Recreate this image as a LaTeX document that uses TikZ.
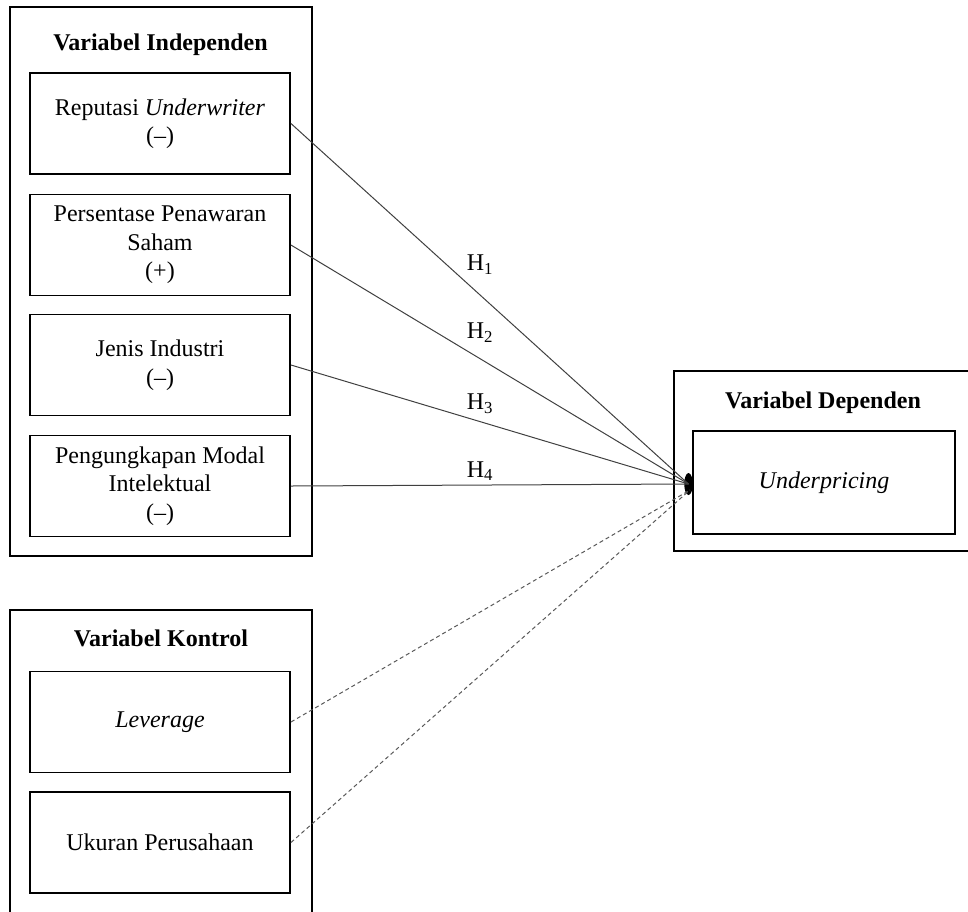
\documentclass[tikz,border=0pt]{standalone}
\usepackage{fontspec}
\setmainfont{Liberation Serif}
\usetikzlibrary{shapes.geometric,positioning}

\tikzset{
	groupbox/.style={draw=black, line width=1.9pt},
	varbox/.style={draw=black, line width=1.9pt, minimum width=260pt, minimum height=101pt,
		align=center, inner sep=0pt, font=\fontsize{24}{28.5}\selectfont},
	grouptitle/.style={anchor=base, font=\fontsize{24}{28.5}\selectfont\bfseries},
	hlabel/.style={font=\fontsize{24}{28.5}\selectfont},
	hline/.style={draw=black!75, line width=1pt},
	cline/.style={draw=black!65, line width=1pt, dash pattern=on 4pt off 3pt}
}

\begin{document}
\begin{tikzpicture}[x=1pt,y=-1pt]
	
	\useasboundingbox (0,0) rectangle (968,911);
	\clip (0,0) rectangle (968,911);
	
	% kelompok variabel
	\draw[groupbox] (10,7) rectangle (312,556);
	\draw[groupbox] (10,610) rectangle (312,940);
	\draw[groupbox] (674,371) rectangle (995,551);
	
	\node[grouptitle] (tind) at (160.5,50) {Variabel Independen};
	\node[grouptitle] (tkon) at (161,646) {Variabel Kontrol};
	\node[grouptitle] (tdep) at (823,408) {Variabel Dependen};
	
	% variabel independen
	\node[varbox] (rep) at (160,123.5) {Reputasi \textit{Underwriter}\\(--)};
	\node[varbox] (pers) at (160,245) {Persentase Penawaran\\Saham\\(+)};
	\node[varbox] (jenis) at (160,365) {Jenis Industri\\(--)};
	\node[varbox] (modal) at (160,486) {Pengungkapan Modal\\Intelektual\\(--)};
	
	% variabel kontrol
	\node[varbox] (lev) at (160,722) {\textit{Leverage}};
	\node[varbox] (ukuran) at (160,842.5) {Ukuran Perusahaan};
	
	% variabel dependen
	\node[varbox, minimum width=262pt, minimum height=103pt] (under) at (824,482.5) {\textit{Underpricing}};
	
	% ujung panah
	\node[ellipse, fill=black, minimum width=8.5pt, minimum height=22pt, inner sep=0pt] (tip) at (688.5,484) {};
	\coordinate (dtip) at (690,490);
	
	\draw[hline] (rep.east) -- (tip.center);
	\draw[hline] (pers.east) -- (tip.center);
	\draw[hline] (jenis.east) -- (tip.center);
	\draw[hline] (modal.east) -- (tip.center);
	
	\draw[cline] (lev.east) -- (dtip);
	\draw[cline] (ukuran.east) -- (dtip);
	
	\node[hlabel] (h1) at (480,265) {H\textsubscript{1}};
	\node[hlabel] (h2) at (480,333) {H\textsubscript{2}};
	\node[hlabel] (h3) at (480,404) {H\textsubscript{3}};
	\node[hlabel] (h4) at (480,471) {H\textsubscript{4}};
	
\end{tikzpicture}
\end{document}
